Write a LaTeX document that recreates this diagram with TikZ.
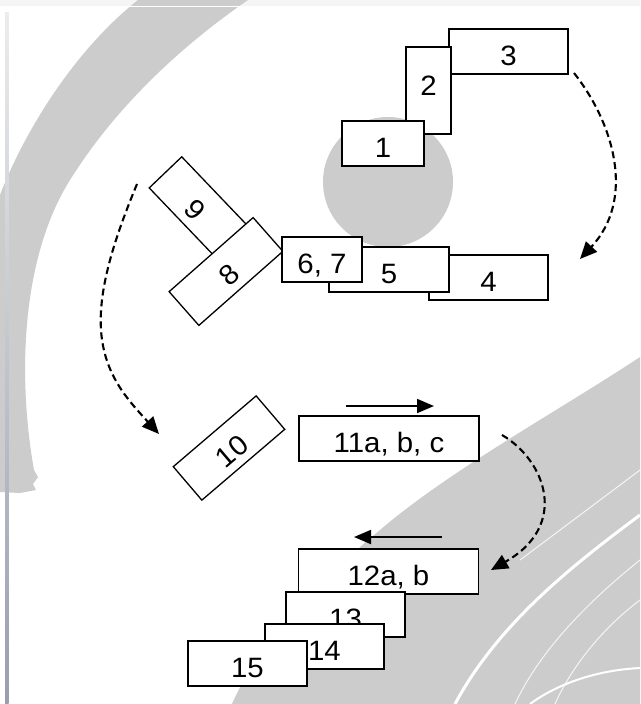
\documentclass[tikz,border=0pt]{standalone}
\usepackage{fontspec}
\setmainfont{Liberation Sans}
\newfontfamily\boxfont{Liberation Sans}[FakeStretch=1.05]
\usetikzlibrary{arrows.meta}
\definecolor{brush}{gray}{0.8}
\definecolor{frameline}{RGB}{118,126,150}
\tikzset{
  stepbox/.style={draw=black, fill=white, line width=1.3pt, inner sep=0pt,
    minimum height=45pt, text height=28pt, text depth=0pt,
    font={\boxfont\fontsize{28pt}{30pt}\selectfont}},
  flowarrow/.style={line width=2.1pt, dash pattern=on 7pt off 4pt,
    -{Triangle[length=17pt,width=15pt]}},
  movearrow/.style={line width=1.8pt, -{Triangle[length=17pt,width=14pt]}},
  streak/.style={white, line width=1pt, opacity=0.8}
}
\begin{document}
\begin{tikzpicture}[x=1pt,y=-1pt]
\useasboundingbox (0,0) rectangle (640,704);
\clip (0,0) rectangle (640,704);
% ---------- background ----------
\fill[white] (0,0) rectangle (640,704);
\fill[gray!8] (0,0) rectangle (640,6);
\fill[brush] (138,0) .. controls (75,50) and (25,130) .. (0,195) -- (0,492)
  -- (20,493) -- (36,490) -- (33,484) -- (38,477) -- (34,470)
  .. controls (18,380) and (20,260) .. (70,180)
  .. controls (120,100) and (190,40) .. (248,0) -- cycle;
\draw[white, line width=1.5pt] (0,6.5) -- (640,6.5);
\fill[brush] (388,182) circle[radius=65pt];
\fill[brush] (640,357) .. controls (560,410) and (450,470) .. (380,530)
  .. controls (320,580) and (260,640) .. (232,704) -- (640,704) -- cycle;
\draw[white, line width=3pt] (640,515) .. controls (580,560) and (500,620) .. (455,704);
\draw[streak] (640,560) .. controls (590,600) and (540,650) .. (515,704);
\draw[streak] (640,600) .. controls (600,630) and (570,670) .. (555,704);
\draw[streak] (640,470) .. controls (600,500) and (560,530) .. (520,560);
\draw[white, line width=2pt] (530,704) .. controls (560,682) and (600,670) .. (640,668);
\shade[top color=gray!15, middle color=frameline, bottom color=frameline!75]
  (5,12) rectangle (8.5,704);
% ---------- boxes ----------
\node[stepbox, minimum width=119pt] (b3) at (508.5,51.5) {3};
\node[stepbox, minimum width=45pt, minimum height=87pt, text depth=18pt] (b2) at (428.5,90.5) {2};
\node[stepbox, minimum width=82pt] (b1) at (383,143.5) {1};
\node[stepbox, minimum width=119pt] (b4) at (488.5,277.5) {4};
\node[stepbox, minimum width=120pt] (b5) at (389,269.5) {5};
\node[stepbox, minimum width=95pt, rotate=-46.3] (b9) at (198.3,206.7) {9};
\node[stepbox, minimum width=112pt, rotate=41.4] (b8) at (226,271.5) {8};
\node[stepbox, minimum width=80pt] (b67) at (322,259.5) {6, 7};
\node[stepbox, minimum width=109pt, minimum height=44pt, rotate=40.5] (b10) at (229,448) {10};
\node[stepbox, minimum width=180pt] (b11) at (389,438.5) {11a, b, c};
\node[stepbox, minimum width=180pt] (b12) at (388.5,571.5) {12a, b};
\node[stepbox, minimum width=119pt] (b13) at (345.5,614.5) {13};
\node[stepbox, minimum width=119pt] (b14) at (324.5,646.5) {14};
\node[stepbox, minimum width=119pt] (b15) at (247.5,663.5) {15};
% ---------- arrows ----------
\coordinate (m1s) at (346,406);
\coordinate (m1e) at (434,406);
\coordinate (m2s) at (442,537);
\coordinate (m2e) at (354,537);
\draw[movearrow] (m1s) -- (m1e);
\draw[movearrow] (m2s) -- (m2e);
\coordinate (f1s) at (574,73);
\coordinate (f1e) at (580,259);
\coordinate (f2s) at (137,184);
\coordinate (f2m) at (101,330);
\coordinate (f2e) at (159,434);
\coordinate (f3s) at (502,435);
\coordinate (f3e) at (491,570);
\draw[flowarrow] (f1s) .. controls (615,125) and (635,200) .. (f1e);
\draw[flowarrow] (f2s) .. controls (118,230) and (98,285) .. (f2m)
  .. controls (104,375) and (128,400) .. (f2e);
\draw[flowarrow] (f3s) .. controls (545,460) and (570,525) .. (f3e);
\end{tikzpicture}
\end{document}
